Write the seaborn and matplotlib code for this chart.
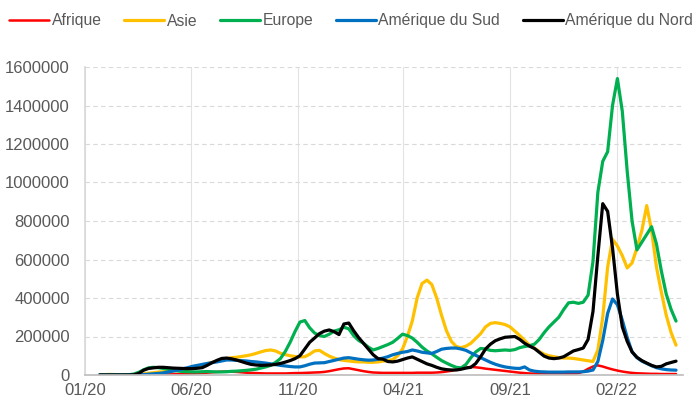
import pandas as pd
import matplotlib.pyplot as plt
from matplotlib.ticker import FuncFormatter
import seaborn as sns

# weekly points starting 22/01/2020, new cases in thousands
start = "2020-01-22"

afrique = [
    0, 0,
    0, 0, 0, 0,
    0, 0.1, 0.3, 0.8,
    1.2, 1.6, 2, 2.5, 3,
    3.5, 4.2, 5, 6,
    7, 8.5, 10, 12,
    14, 16, 17, 18, 17,
    16, 14, 12, 11,
    10, 9, 8, 8, 8,
    8, 8, 9, 10,
    10, 11, 12, 13,
    14, 16, 20, 25, 30,
    # 2021
    34, 35, 30, 25,
    20, 16, 13, 12,
    11, 11, 11, 11, 11,
    11, 11, 12, 12,
    12, 12, 13, 15,
    18, 22, 28, 33, 38,
    42, 40, 37, 33,
    30, 27, 24, 21,
    18, 15, 12, 10, 8,
    7, 6, 5, 5,
    5, 5, 5, 6,
    6, 9, 18, 32, 44,
    # 2022
    50, 44, 36, 29,
    23, 18, 14, 11,
    9, 8, 7, 6, 6,
    5, 5, 5, 5,
]

asie = [
    0.5, 2,
    3, 2.5, 1.5, 1,
    1.5, 2.5, 4, 6,
    9, 12, 15, 17, 19,
    21, 23, 26, 30,
    36, 42, 50, 58,
    66, 72, 78, 85, 90,
    92, 96, 100, 105,
    112, 120, 127, 130, 125,
    113, 106, 100, 96,
    94, 95, 108, 125,
    128, 112, 98, 88, 80,
    # 2021
    76, 73, 70, 68,
    68, 66, 66, 68,
    72, 75, 80, 100, 135,
    200, 280, 400, 475,
    493, 470, 400, 310,
    230, 175, 148, 142, 150,
    165, 190, 215, 250,
    268, 272, 268, 262,
    250, 228, 205, 180, 155,
    140, 122, 108, 100,
    95, 90, 88, 88,
    86, 82, 78, 74, 70,
    # 2022
    130, 300, 560, 705,
    670, 620, 556, 582,
    660, 750, 880, 750, 560,
    430, 310, 220, 155,
]

europe = [
    0, 0,
    0, 0, 0, 0.3,
    1.5, 5, 14, 27,
    37, 40, 38, 34, 30,
    25, 21, 18, 17,
    16, 16, 17, 18,
    17, 16, 16, 17, 19,
    20, 22, 24, 27,
    30, 36, 42, 50, 65,
    85, 122, 170, 226,
    275, 283, 245, 218,
    205, 200, 212, 228, 235,
    # 2021
    248, 240, 205, 180,
    165, 145, 130, 138,
    148, 158, 170, 190, 212,
    205, 192, 170, 145,
    125, 110, 92, 75,
    62, 50, 40, 37, 55,
    90, 120, 138, 135,
    128, 126, 128, 130,
    128, 132, 142, 148, 152,
    160, 185, 220, 250,
    275, 300, 340, 375,
    378, 372, 378, 415, 590,
    # 2022
    950, 1110, 1160, 1400,
    1540, 1370, 1060, 800,
    650, 690, 730, 770, 680,
    540, 420, 340, 280,
]

amerique_sud = [
    0, 0,
    0, 0, 0, 0,
    0, 0.2, 1, 2,
    4, 6, 8, 11, 15,
    20, 25, 32, 38,
    45, 50, 55, 60,
    64, 68, 73, 78, 78,
    76, 75, 73, 70,
    68, 65, 62, 58, 54,
    50, 47, 44, 42,
    42, 48, 56, 62,
    63, 64, 70, 76, 82,
    # 2021
    88, 90, 86, 82,
    79, 77, 78, 82,
    88, 95, 105, 112, 118,
    122, 130, 125, 118,
    115, 112, 122, 134,
    138, 140, 140, 135, 128,
    115, 102, 90, 78,
    66, 56, 48, 42,
    38, 35, 34, 42, 26,
    20, 17, 16, 15,
    15, 15, 15, 16,
    16, 16, 17, 20, 26,
    # 2022
    70, 180, 320, 395,
    365, 285, 195, 120,
    90, 72, 60, 48, 38,
    32, 28, 26, 25,
]

amerique_nord = [
    0, 0,
    0, 0, 0, 0,
    0.1, 1, 8, 25,
    34, 37, 40, 40, 38,
    36, 35, 34, 33,
    33, 35, 38, 50,
    64, 76, 86, 88, 84,
    78, 70, 62, 55,
    52, 50, 51, 52, 55,
    60, 67, 75, 85,
    100, 135, 170, 192,
    215, 228, 234, 225, 210,
    # 2021
    265, 270, 230, 195,
    165, 135, 105, 85,
    82, 70, 68, 72, 80,
    88, 94, 82, 70,
    58, 50, 40, 32,
    28, 26, 26, 30, 36,
    40, 60, 95, 135,
    160, 178, 188, 196,
    198, 200, 185, 165, 150,
    138, 118, 98, 88,
    85, 88, 95, 110,
    125, 132, 140, 185, 330,
    # 2022
    620, 890, 850, 660,
    420, 250, 175, 120,
    92, 75, 62, 50, 42,
    45, 58, 65, 72,
]

series = {
    "Afrique": afrique,
    "Asie": asie,
    "Europe": europe,
    "Amérique du Sud": amerique_sud,
    "Amérique du Nord": amerique_nord,
}
colors = {
    "Afrique": "#FF0000",
    "Asie": "#FFC000",
    "Europe": "#00B050",
    "Amérique du Sud": "#0070C0",
    "Amérique du Nord": "#000000",
}
tick_dates = ["2020-01-01", "2020-06-01", "2020-11-01", "2021-04-01", "2021-09-01", "2022-02-01"]
tick_labels = ["01/20", "06/20", "11/20", "04/21", "09/21", "02/22"]

sns.set_theme(style="white")
plt.rcParams["font.family"] = ["Liberation Sans", "DejaVu Sans"]

fig = plt.figure(figsize=(6.97, 4.01), dpi=100)
ax = fig.add_axes([85 / 697, 26 / 401, 598 / 697, 308 / 401])

for name, vals in series.items():
    df = pd.DataFrame({
        "date": pd.date_range(start, periods=len(vals), freq="7D"),
        "cases": [v * 1000 for v in vals],
    })
    sns.lineplot(data=df, x="date", y="cases", color=colors[name],
                 lw=1.8 if name == "Afrique" else 2.3, label=name, ax=ax)

ax.set_xlim(pd.Timestamp("2020-01-01"), pd.Timestamp("2022-05-07"))
ax.set_ylim(0, 1600000)
ax.set_yticks(range(0, 1600001, 200000))
ax.yaxis.set_major_formatter(FuncFormatter(lambda v, p: f"{int(v)}"))
ax.set_xticks(pd.to_datetime(tick_dates))
ax.set_xticklabels(tick_labels)
ax.set_xlabel("")
ax.set_ylabel("")

# light dashed horizontal grid, solid vertical lines at the date ticks
ax.grid(axis="y", color="#D9D9D9", ls=(0, (4, 3)), lw=0.8)
ax.grid(axis="x", color="#E3E3E3", lw=0.8)
ax.set_axisbelow(True)
for s in ["top", "right"]:
    ax.spines[s].set_visible(False)
ax.spines["left"].set_color("#D9D9D9")
ax.spines["bottom"].set_color("#BFBFBF")
ax.tick_params(axis="x", length=3.6, color="#BFBFBF", labelcolor="#595959", labelsize=12, pad=2)
ax.tick_params(axis="y", length=0, labelcolor="#595959", labelsize=12, pad=11)

handles, labels = ax.get_legend_handles_labels()
ax.get_legend().remove()
fig.legend(handles, labels, loc="center", bbox_to_anchor=(0.504, 1 - 21 / 401), ncol=5,
           frameon=False, handlelength=2.55, handletextpad=0.15, columnspacing=1.45,
           fontsize=11.3, labelcolor="#595959")

fig.savefig("out.png", dpi=100)
